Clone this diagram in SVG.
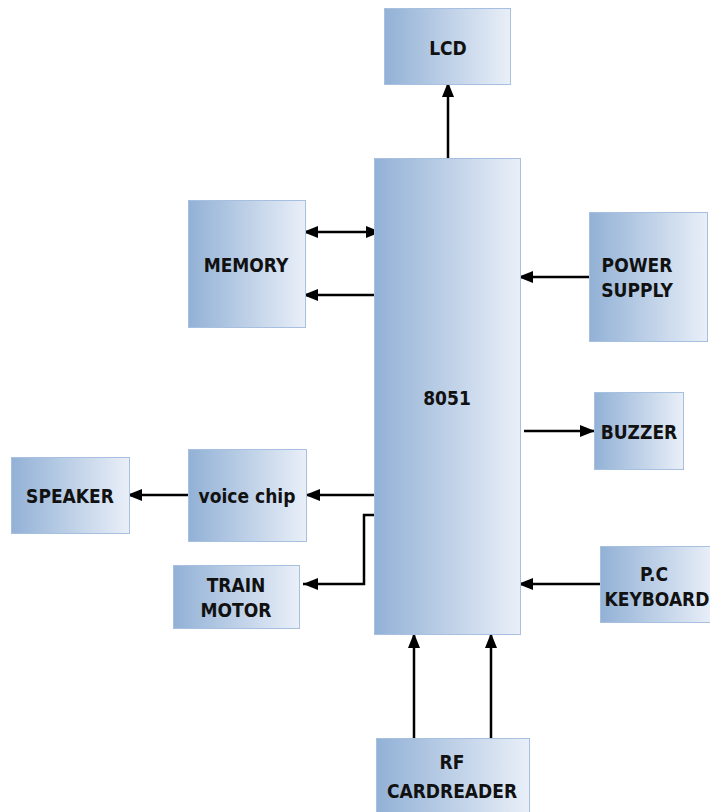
<svg xmlns="http://www.w3.org/2000/svg" width="710" height="812" viewBox="0 0 710 812">
<defs>
<linearGradient id="g" x1="0" y1="0" x2="1" y2="0">
<stop offset="0" stop-color="#92b1d6"/>
<stop offset="1" stop-color="#e9eff8"/>
</linearGradient>
<marker id="ah" viewBox="0 0 15 12" refX="15" refY="6" markerWidth="15" markerHeight="12" markerUnits="userSpaceOnUse" orient="auto-start-reverse">
<path d="M0,0 L15,6 L0,12 z" fill="#000"/>
</marker>
<style>
.box{fill:url(#g);stroke:#a7c0df;stroke-width:1}
.t{font-family:"DejaVu Sans Condensed","DejaVu Sans",sans-serif;font-stretch:condensed;font-weight:bold;font-size:19px;fill:#111;text-anchor:middle;dominant-baseline:central}
.c{fill:none;stroke:#000;stroke-width:2.5}
</style>
</defs>
<rect width="710" height="812" fill="#fff"/>
<g id="connectors">
<line class="c" x1="448" y1="158" x2="448" y2="82" marker-end="url(#ah)"/>
<line class="c" x1="303" y1="232" x2="381" y2="232" marker-start="url(#ah)" marker-end="url(#ah)"/>
<line class="c" x1="374" y1="295" x2="303" y2="295" marker-end="url(#ah)"/>
<line class="c" x1="589" y1="277" x2="518" y2="277" marker-end="url(#ah)"/>
<line class="c" x1="524" y1="431" x2="595" y2="431" marker-end="url(#ah)"/>
<line class="c" x1="374" y1="495" x2="305" y2="495" marker-end="url(#ah)"/>
<line class="c" x1="188" y1="495" x2="127" y2="495" marker-end="url(#ah)"/>
<polyline class="c" points="374,515 364,515 364,584 303,584" marker-end="url(#ah)"/>
<line class="c" x1="600" y1="584" x2="518" y2="584" marker-end="url(#ah)"/>
<line class="c" x1="414" y1="738" x2="414" y2="633" marker-end="url(#ah)"/>
<line class="c" x1="491" y1="738" x2="491" y2="633" marker-end="url(#ah)"/>
</g>
<g id="lcd"><rect class="box" x="384.5" y="8.5" width="126" height="76"/><text class="t" x="448" y="48">LCD</text></g>
<g id="mcu"><rect class="box" x="374.5" y="158.5" width="146" height="476"/><text class="t" x="447" y="398">8051</text></g>
<g id="memory"><rect class="box" x="188.5" y="200.5" width="117" height="127"/><text class="t" x="246" y="265">MEMORY</text></g>
<g id="power"><rect class="box" x="589.5" y="212.5" width="118" height="129"/><text class="t" x="637" y="265">POWER</text><text class="t" x="637" y="290">SUPPLY</text></g>
<g id="buzzer"><rect class="box" x="594.5" y="392.5" width="89" height="77"/><text class="t" x="639" y="432">BUZZER</text></g>
<g id="voice"><rect class="box" x="188.5" y="449.5" width="118" height="92"/><text class="t" x="247" y="496">voice chip</text></g>
<g id="speaker"><rect class="box" x="11.5" y="457.5" width="118" height="76"/><text class="t" x="70" y="496">SPEAKER</text></g>
<g id="motor"><rect class="box" x="173.5" y="565.5" width="126" height="63"/><text class="t" x="236" y="585">TRAIN</text><text class="t" x="236" y="610">MOTOR</text></g>
<g id="keyboard"><rect class="box" x="600.5" y="546.5" width="112" height="76"/><text class="t" x="654" y="574">P.C</text><text class="t" x="657" y="599">KEYBOARD</text></g>
<g id="rf"><rect class="box" x="376.5" y="738.5" width="153" height="76"/><text class="t" x="452" y="762">RF</text><text class="t" x="452" y="791">CARDREADER</text></g>
</svg>
